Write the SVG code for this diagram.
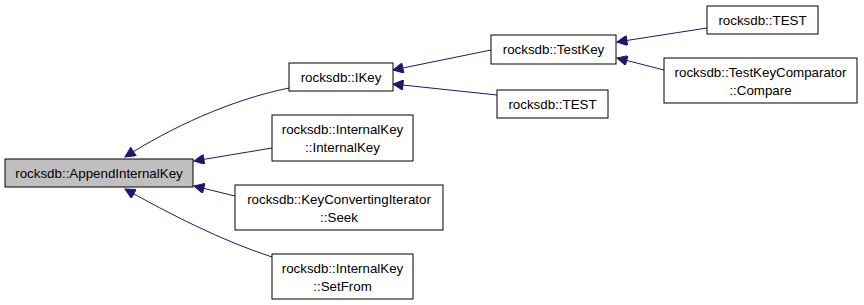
<svg xmlns="http://www.w3.org/2000/svg" width="864" height="305" viewBox="0 0 864 305">
<style>
  .node rect { fill: #ffffff; stroke: #000000; stroke-width: 1; }
  .node.root rect { fill: #bfbfbf; }
  .node text { font-family: "Liberation Sans", Arial, sans-serif; font-size: 13.33px; fill: #000000; text-anchor: middle; }
  .edges path { fill: none; stroke: #191970; stroke-width: 1; }
</style>
<defs>
  <marker id="arrow" viewBox="0 0 10 10" refX="10" refY="5" markerWidth="13" markerHeight="10" markerUnits="userSpaceOnUse" orient="auto">
    <path d="M0,0 L10,5 L0,10 Z" fill="#191970" stroke="#191970"/>
  </marker>
</defs>
<rect width="864" height="305" fill="#ffffff"/>

<g class="edges">
  <path d="M289,88 C230,100 170,128 125,157" marker-end="url(#arrow)"/>
  <path d="M272,148 L194,161" marker-end="url(#arrow)"/>
  <path d="M235,196 L194,186" marker-end="url(#arrow)"/>
  <path d="M272,257 C220,240 170,214 125,189" marker-end="url(#arrow)"/>
  <path d="M491,50 L393,70" marker-end="url(#arrow)"/>
  <path d="M497,95 L393,84" marker-end="url(#arrow)"/>
  <path d="M707,28 L617,42" marker-end="url(#arrow)"/>
  <path d="M664,70 L617,58" marker-end="url(#arrow)"/>
</g>

<g id="node-append" class="node root">
  <rect x="5" y="159" width="188" height="28"/>
  <text x="99" y="178">rocksdb::AppendInternalKey</text>
</g>
<g id="node-ikey" class="node">
  <rect x="289" y="63" width="104" height="28"/>
  <text x="341" y="82">rocksdb::IKey</text>
</g>
<g id="node-internalkey-ctor" class="node">
  <rect x="272" y="115" width="141" height="46"/>
  <text x="342.5" y="134">rocksdb::InternalKey</text>
  <text x="342.5" y="152">::InternalKey</text>
</g>
<g id="node-seek" class="node">
  <rect x="235" y="185" width="208" height="45"/>
  <text x="339" y="204">rocksdb::KeyConvertingIterator</text>
  <text x="339" y="222">::Seek</text>
</g>
<g id="node-setfrom" class="node">
  <rect x="272" y="254" width="141" height="45"/>
  <text x="342.5" y="273">rocksdb::InternalKey</text>
  <text x="342.5" y="291">::SetFrom</text>
</g>
<g id="node-testkey" class="node">
  <rect x="491" y="35" width="125" height="29"/>
  <text x="553.5" y="54">rocksdb::TestKey</text>
</g>
<g id="node-test-mid" class="node">
  <rect x="497" y="90" width="111" height="28"/>
  <text x="552.5" y="109">rocksdb::TEST</text>
</g>
<g id="node-test-top" class="node">
  <rect x="707" y="6" width="111" height="28"/>
  <text x="762.5" y="25">rocksdb::TEST</text>
</g>
<g id="node-compare" class="node">
  <rect x="664" y="58" width="193" height="45"/>
  <text x="760.5" y="77">rocksdb::TestKeyComparator</text>
  <text x="760.5" y="95">::Compare</text>
</g>
</svg>
